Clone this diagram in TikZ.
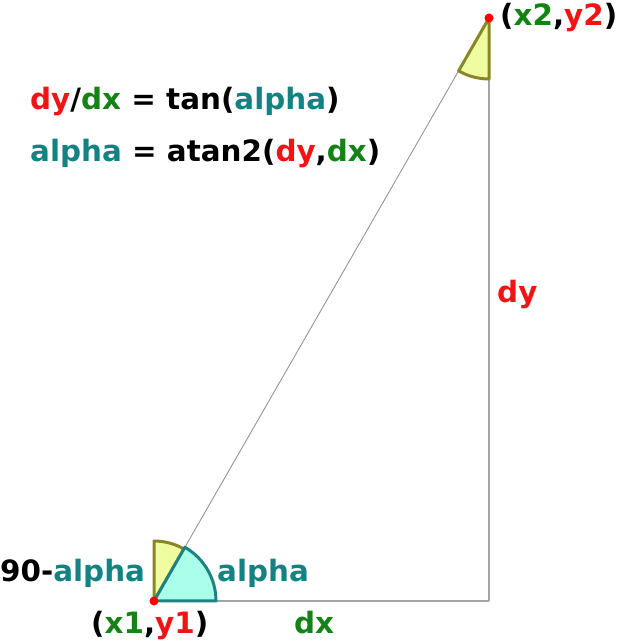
\documentclass[tikz,border=0pt]{standalone}
\usepackage{fontspec}
\setmainfont{DejaVu Sans}
\definecolor{cred}{RGB}{240,20,20}
\definecolor{cgreen}{RGB}{20,130,20}
\definecolor{cteal}{RGB}{20,130,130}
\definecolor{yfill}{RGB}{240,252,160}
\definecolor{yline}{RGB}{135,135,40}
\definecolor{cfill}{RGB}{170,255,235}
\definecolor{cline}{RGB}{30,130,130}
\definecolor{lgray}{RGB}{165,165,165}
\newcommand{\R}[1]{\textcolor{cred}{#1}}
\newcommand{\G}[1]{\textcolor{cgreen}{#1}}
\newcommand{\T}[1]{\textcolor{cteal}{#1}}
\begin{document}
\begin{tikzpicture}[x=1bp,y=1bp,
  lbl/.style={inner sep=0pt, anchor=base west, font=\fontsize{29.5}{34}\selectfont\bfseries},
  edge/.style={draw=lgray, line width=1.1bp},
  ysec/.style={fill=yfill, draw=yline, line width=3bp, line join=round},
  csec/.style={fill=cfill, draw=cline, line width=3bp, line join=round},
  dot/.style={circle, fill=red, inner sep=0pt, minimum size=9bp}]
\useasboundingbox (0,0) rectangle (621,641);
\coordinate (p1) at (154,40);
\coordinate (p2) at (489,623);
\coordinate (c) at (489,40);
% lines
\draw[edge] (p1) -- (c);
\draw[edge] (c) -- (p2);
\draw[draw=lgray!90!black, line width=0.9bp] (p1) -- (p2);
% sectors
\draw[ysec] (p1) -- ++(90:60) arc[start angle=90, end angle=60.12, radius=60] -- cycle;
\draw[csec] (p1) -- ++(0:62) arc[start angle=0, end angle=60.12, radius=62] -- cycle;
\draw[ysec] (p2) -- ++(270:61) arc[start angle=270, end angle=240.12, radius=61] -- cycle;
% dots
\node[dot] (d1) at (p1) {};
\node[dot] (d2) at (p2) {};
% labels
\node[lbl] (t2) at (500,615) {(\G{x2},\R{y2})};
\node[lbl] (eq1) at (30,531) {\R{dy}/\G{dx} = tan(\T{alpha})};
\node[lbl] (eq2) at (30,479) {\T{alpha} = atan2(\R{dy},\G{dx})};
\node[lbl] (ldy) at (497,338) {\R{dy}};
\node[lbl] (l90) at (0,59) {90-\T{alpha}};
\node[lbl] (lal) at (217,59) {\T{alpha}};
\node[lbl] (t1) at (91,7) {(\G{x1},\R{y1})};
\node[lbl] (ldx) at (294,7) {\G{dx}};
\end{tikzpicture}
\end{document}
